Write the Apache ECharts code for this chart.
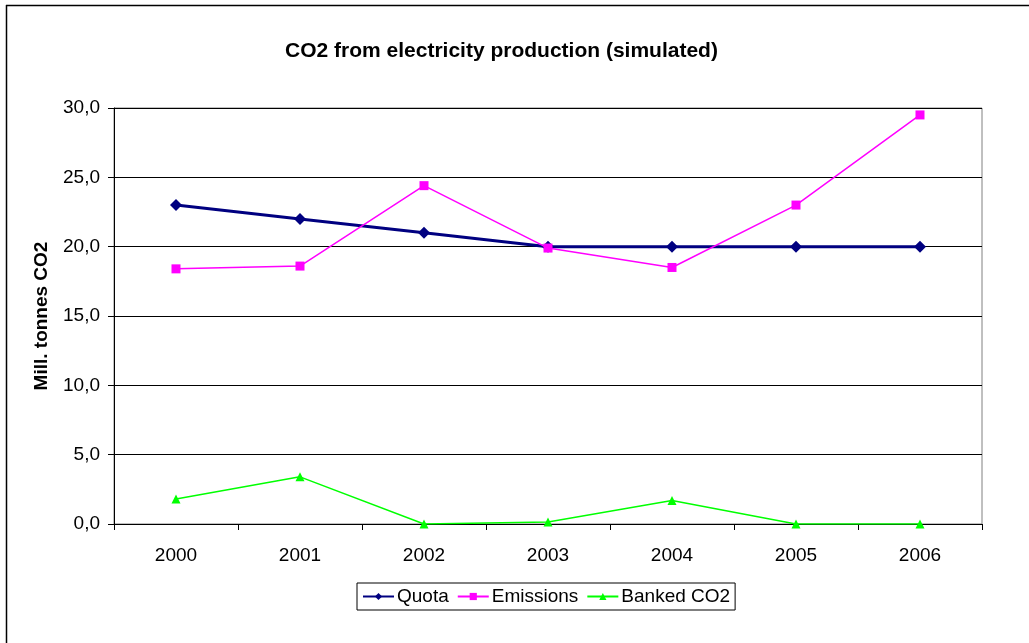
<!DOCTYPE html>
<html>
<head>
<meta charset="utf-8">
<style>
  html, body { margin: 0; padding: 0; background: #fff; }
  #chart { width: 1029px; height: 643px; }
</style>
<script src="https://cdn.jsdelivr.net/npm/echarts@6/dist/echarts.min.js"></script>
</head>
<body>
<div id="chart"></div>
<script>
// Years on the category axis
const years = ['2000', '2001', '2002', '2003', '2004', '2005', '2006'];
// Million tonnes CO2 per year
const quota = [23.0, 22.0, 21.0, 20.0, 20.0, 20.0, 20.0];
const emissions = [18.4, 18.6, 24.4, 19.9, 18.5, 23.0, 29.5];
const banked = [1.8, 3.4, 0.0, 0.15, 1.7, 0.0, 0.0];
// Value axis ticks
const yTicks = [0, 5, 10, 15, 20, 25, 30];

const font = '"Liberation Sans", Arial, sans-serif';
const chart = echarts.init(document.getElementById('chart'), null, { renderer: 'canvas' });

chart.setOption({
  animation: false,
  backgroundColor: '#fff',
  title: {
    text: 'CO2 from electricity production (simulated)',
    left: 280,
    top: 36,
    textStyle: { fontFamily: font, fontSize: 21, fontWeight: 'bold', color: '#000' }
  },
  grid: { left: 114, top: 108, right: 47, bottom: 119, show: true, borderColor: '#808080', borderWidth: 1 },
  legend: {
    top: 583,
    left: 357,
    itemWidth: 31,
    itemHeight: 9,
    itemGap: 8,
    padding: [4, 5, 4, 5],
    borderColor: '#000',
    borderWidth: 1,
    textStyle: { fontFamily: font, fontSize: 19, color: '#000', padding: [0, 0, 0, -2] },
    data: ['Quota', 'Emissions', 'Banked CO2']
  },
  xAxis: {
    type: 'category',
    data: years,
    boundaryGap: true,
    axisLine: { lineStyle: { color: '#000', width: 1 } },
    axisTick: { show: true, length: 6, lineStyle: { color: '#000' } },
    axisLabel: { fontFamily: font, fontSize: 19, color: '#000', margin: 22 }
  },
  yAxis: {
    type: 'value',
    min: yTicks[0],
    max: yTicks[yTicks.length - 1],
    interval: 5,
    name: 'Mill. tonnes CO2',
    nameLocation: 'middle',
    nameGap: 63,
    nameTextStyle: { fontFamily: font, fontSize: 19, fontWeight: 'bold', color: '#000' },
    axisLine: { show: true, lineStyle: { color: '#000', width: 1 } },
    axisTick: { show: true, length: 6, lineStyle: { color: '#000' } },
    axisLabel: {
      fontFamily: font, fontSize: 19, color: '#000', margin: 14,
      formatter: v => v.toFixed(1).replace('.', ',')
    },
    splitLine: { show: true, lineStyle: { color: '#000', width: 1 } }
  },
  series: [
    {
      name: 'Quota',
      type: 'line',
      data: quota,
      symbol: 'diamond',
      symbolSize: 12,
      lineStyle: { color: '#000080', width: 3 },
      itemStyle: { color: '#000080' },
      z: 3
    },
    {
      name: 'Emissions',
      type: 'line',
      data: emissions,
      symbol: 'rect',
      symbolSize: 9,
      lineStyle: { color: '#ff00ff', width: 1.5 },
      itemStyle: { color: '#ff00ff' },
      z: 4
    },
    {
      name: 'Banked CO2',
      type: 'line',
      data: banked,
      symbol: 'triangle',
      symbolSize: 9,
      lineStyle: { color: '#00ff00', width: 1.5 },
      itemStyle: { color: '#00ff00' },
      z: 5
    }
  ],
  graphic: [
    { type: 'line', shape: { x1: 6.5, y1: 5, x2: 6.5, y2: 643 }, style: { stroke: '#000', lineWidth: 1.5 } },
    { type: 'line', shape: { x1: 6, y1: 5.5, x2: 1029, y2: 5.5 }, style: { stroke: '#000', lineWidth: 1.5 } }
  ]
});
</script>
</body>
</html>
